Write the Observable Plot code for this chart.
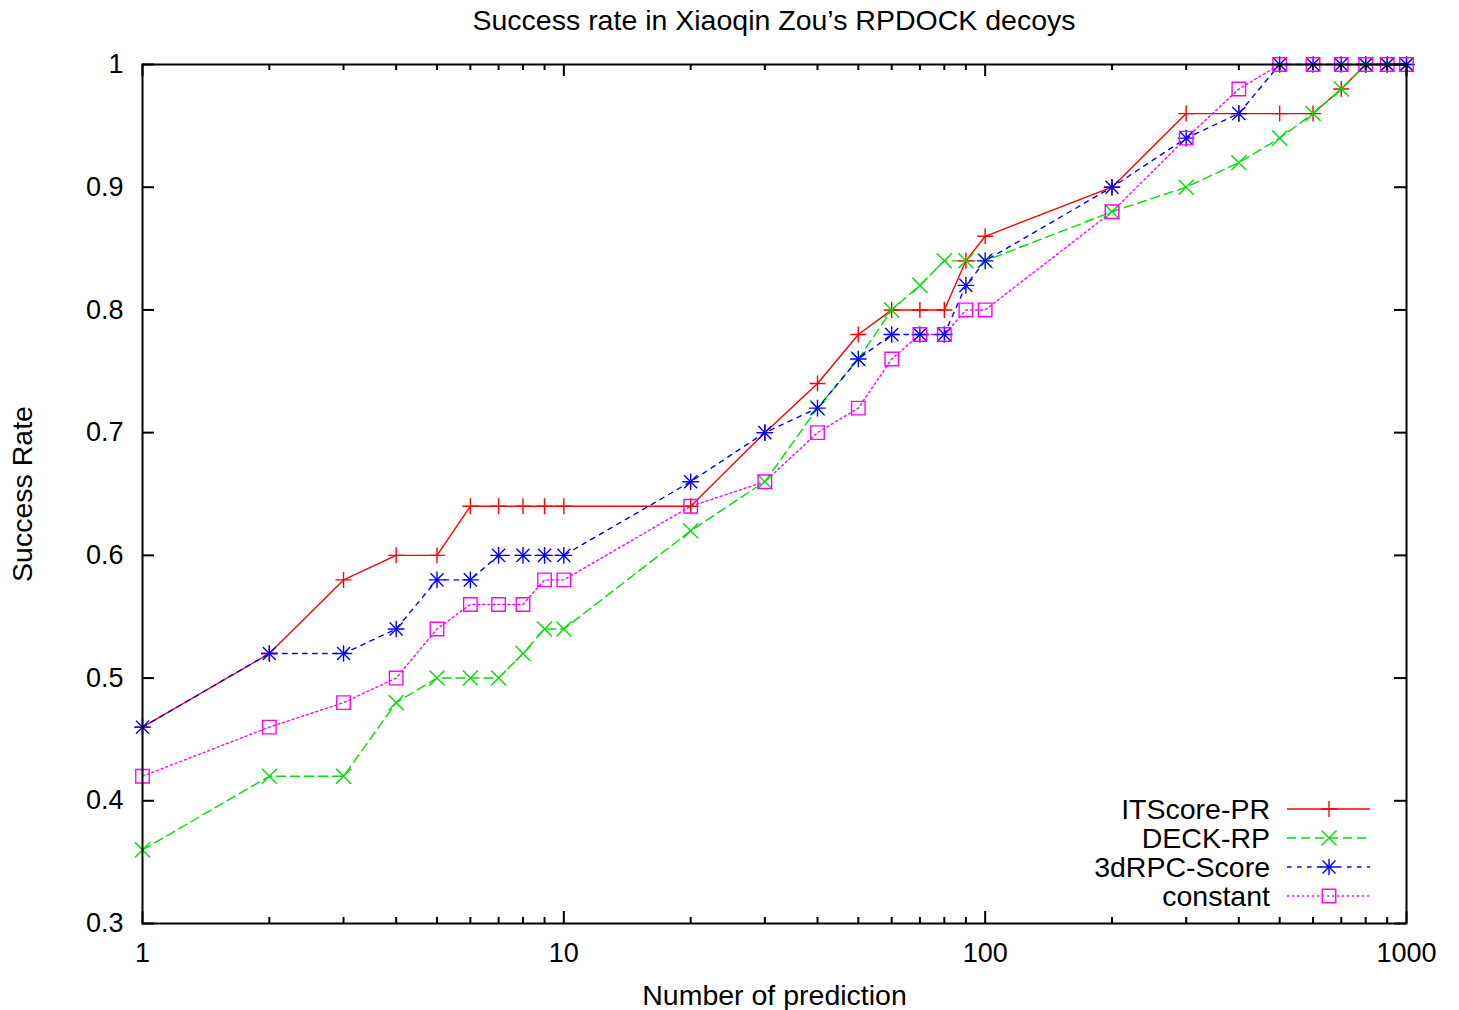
<!DOCTYPE html>
<html><head><meta charset="utf-8">
<script src="https://cdn.jsdelivr.net/npm/d3@7"></script>
<script src="https://cdn.jsdelivr.net/npm/@observablehq/plot@0.6"></script>
<style>
body{margin:0;background:#fff;font-family:"Liberation Sans",Arial,sans-serif;}
#wrap{position:relative;width:1459px;height:1010px;overflow:hidden;}
#title{position:absolute;left:142px;width:1264px;top:3px;text-align:center;font-size:28.5px;line-height:34px;color:#000;}
#chart{position:absolute;left:0;top:40px;}
#legend{position:absolute;left:0;top:0;}
</style></head><body>
<div id="wrap">
<div id="title">Success rate in Xiaoqin Zou’s RPDOCK decoys</div>
<div id="chart"></div>
<svg id="legend" width="1459" height="1010"></svg>
</div>
<script>
// ---- data ----
const predictions = [1,2,3,4,5,6,7,8,9,10,20,30,40,50,60,70,80,90,100,200,300,400,500,600,700,800,900,1000];
const itscorePR  = [0.46,0.52,0.58,0.60,0.60,0.64,0.64,0.64,0.64,0.64,0.64,0.70,0.74,0.78,0.80,0.80,0.80,0.84,0.86,0.90,0.96,0.96,0.96,0.96,0.98,1,1,1];
const deckRP     = [0.36,0.42,0.42,0.48,0.50,0.50,0.50,0.52,0.54,0.54,0.62,0.66,0.72,0.76,0.80,0.82,0.84,0.84,0.84,0.88,0.90,0.92,0.94,0.96,0.98,1,1,1];
const rpc3dScore = [0.46,0.52,0.52,0.54,0.58,0.58,0.60,0.60,0.60,0.60,0.66,0.70,0.72,0.76,0.78,0.78,0.78,0.82,0.84,0.90,0.94,0.96,1,1,1,1,1,1];
const constant   = [0.42,0.46,0.48,0.50,0.54,0.56,0.56,0.56,0.58,0.58,0.64,0.66,0.70,0.72,0.76,0.78,0.78,0.80,0.80,0.88,0.94,0.98,1,1,1,1,1,1];
const seriesNames = ["ITScore-PR","DECK-RP","3dRPC-Score","constant"];
const yTicks = [0.3,0.4,0.5,0.6,0.7,0.8,0.9,1];
const xMajorTicks = [1,10,100,1000];
const xMinorTicks = [2,3,4,5,6,7,8,9,20,30,40,50,60,70,80,90,200,300,400,500,600,700,800,900];

// ---- styles ----
const styles = {
  "ITScore-PR":  {color:"#ff0000", dash:null,   symbols:[["plus",5.2]]},
  "DECK-RP":     {color:"#00e000", dash:"9,5",  symbols:[["times",6.9]]},
  "3dRPC-Score": {color:"#0000ff", dash:"4.5,5.5", symbols:[["plus",5.4],["times",6.0]]},
  "constant":    {color:"#ff00ff", dash:"2,3",  symbols:[["square2",8.6]]}
};
const values = {"ITScore-PR":itscorePR, "DECK-RP":deckRP, "3dRPC-Score":rpc3dScore, "constant":constant};
const table = seriesNames.map(name => predictions.map((x,i)=>({x, y: values[name][i], name})));

const W = 1459, H = 970, mL = 142, mR = 53, mT = 24, mB = 87;
const pw = W - mL - mR, ph = H - mT - mB;

const marks = [];
seriesNames.forEach((name, k) => {
  const s = styles[name];
  marks.push(Plot.line(table[k], {x:"x", y:"y", stroke:s.color, strokeWidth:1.4, strokeDasharray:s.dash}));
});
seriesNames.forEach((name, k) => {
  const s = styles[name];
  s.symbols.forEach(([sym, r]) => {
    marks.push(Plot.dot(table[k], {x:"x", y:"y", symbol:sym, r, stroke:s.color, strokeWidth:1.4, fill:"none"}));
  });
});
marks.push(
  Plot.frame({stroke:"#000", strokeWidth:2}),
  Plot.tickY(yTicks, {y:d=>d, insetRight: pw-12, stroke:"#000", strokeWidth:2}),
  Plot.tickY(yTicks, {y:d=>d, insetLeft: pw-12, stroke:"#000", strokeWidth:2}),
  Plot.tickX(xMajorTicks, {x:d=>d, insetTop: ph-12, stroke:"#000", strokeWidth:2}),
  Plot.tickX(xMajorTicks, {x:d=>d, insetBottom: ph-12, stroke:"#000", strokeWidth:2}),
  Plot.tickX(xMinorTicks, {x:d=>d, insetTop: ph-6, stroke:"#000", strokeWidth:2}),
  Plot.tickX(xMinorTicks, {x:d=>d, insetBottom: ph-6, stroke:"#000", strokeWidth:2}),
  Plot.axisY(yTicks, {tickSize:0, tickPadding:19, fontSize:27, tickFormat:d=>String(+d.toFixed(1)), label:null}),
  Plot.axisX(xMajorTicks, {tickSize:0, tickPadding:19, fontSize:27, tickFormat:d=>String(d), label:null}),
  Plot.text(["Number of prediction"], {frameAnchor:"bottom", dy:72, fontSize:28.5, lineAnchor:"middle", textAnchor:"middle", fill:"#000"}),
  Plot.text(["Success Rate"], {frameAnchor:"left", dx:-120, rotate:-90, fontSize:28.5, textAnchor:"middle", lineAnchor:"middle", fill:"#000"})
);

const chart = Plot.plot({
  width: W, height: H,
  marginLeft: mL, marginRight: mR, marginTop: mT, marginBottom: mB,
  style: {fontFamily:"Liberation Sans, Arial, sans-serif", color:"#000", background:"#fff", overflow:"visible"},
  x: {type:"log", domain:[1,1000]},
  y: {type:"linear", domain:[0.3,1]},
  marks
});
document.getElementById("chart").appendChild(chart);

// ---- legend (inside plot, bottom-right) ----
const leg = d3.select("#legend");
const rowY0 = 809, rowStep = 29, textRight = 1270, lx1 = 1287, lx2 = 1370, lmid = 1329;
const sym = {
  plus: r => d3.symbol(d3.symbolPlus, Math.PI*r*r)(),
  times: r => d3.symbol(d3.symbolTimes, Math.PI*r*r)(),
  square2: r => d3.symbol(d3.symbolSquare2, Math.PI*r*r)()
};
seriesNames.forEach((name, i) => {
  const s = styles[name];
  const y = rowY0 + i*rowStep;
  leg.append("text").attr("x", textRight).attr("y", y).attr("dy","0.35em")
    .attr("text-anchor","end").attr("font-size", 28.5)
    .attr("font-family","Liberation Sans, Arial, sans-serif").attr("fill","#000").text(name);
  leg.append("line").attr("x1", lx1).attr("x2", lx2).attr("y1", y).attr("y2", y)
    .attr("stroke", s.color).attr("stroke-width", 1.4).attr("stroke-dasharray", s.dash);
  s.symbols.forEach(([sn, r]) => {
    leg.append("path").attr("d", sym[sn](r)).attr("transform", `translate(${lmid},${y})`)
      .attr("fill","none").attr("stroke", s.color).attr("stroke-width", 1.4);
  });
});
</script>
</body></html>
